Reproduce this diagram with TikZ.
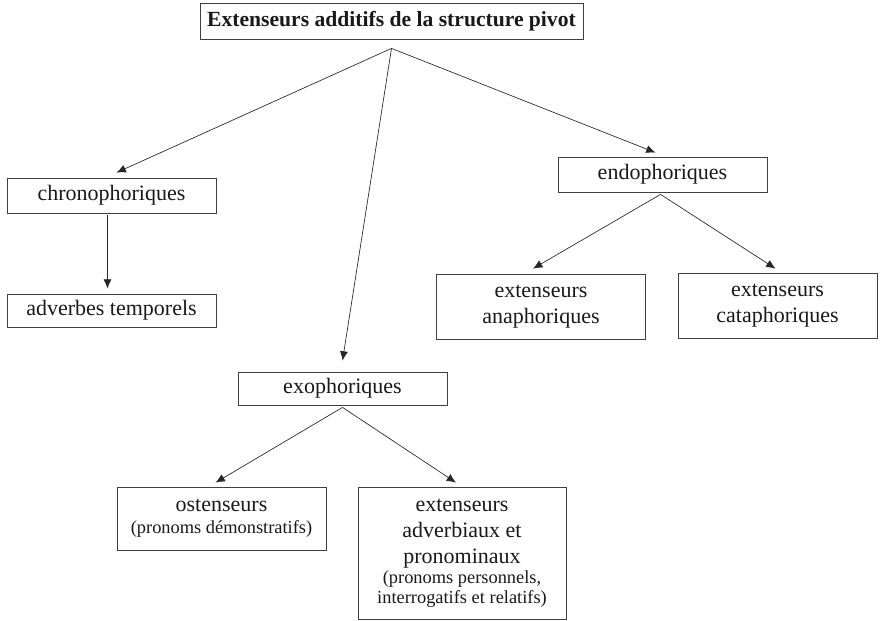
\documentclass[tikz,border=0pt]{standalone}
\usepackage{fontspec}
\setmainfont{Liberation Serif}
\usetikzlibrary{arrows.meta,positioning}
\newcommand{\petit}{\fontsize{13.8}{15}\selectfont}
\tikzset{>={Latex[length=7pt,width=6pt]}}

\begin{document}
\begin{tikzpicture}[x=0.75pt,y=-0.75pt]
	\tikzset{block/.style={draw=black!75, line width=0.6pt, rectangle, align=center, inner sep=0pt,
			minimum width=156.75pt, minimum height=26.25pt, text=black!90, font=\fontsize{16.5}{19.5}\selectfont},
		link/.style={->, line width=0.5pt, draw=black!85}}
	\useasboundingbox (0,0) rectangle (880,620);
	% boxes
	\node [block, minimum width=287.25pt, minimum height=27pt, font=\fontsize{16.2}{19.5}\selectfont\bfseries] (pivot) at (391.5,21) {Extenseurs additifs de la structure pivot};
	\node [block] (chrono) at (111.5,195.5) {chronophoriques};
	\node [block, minimum height=24.75pt] (adv) at (111.5,310.5) {adverbes temporels};
	\node [block] (endo) at (662.5,174.5) {endophoriques};
	\node [block, minimum height=48.75pt] (ana) at (541,306.5) {extenseurs\\anaphoriques};
	\node [block, minimum width=149.25pt, minimum height=48.75pt] (cata) at (777.5,305.5) {extenseurs\\cataphoriques};
	\node [block, minimum height=24.75pt] (exo) at (342.5,388.5) {exophoriques};
	\node [block, minimum height=47.25pt] (osten) at (221.5,518.5) {ostenseurs\\[-3pt]{\petit (pronoms démonstratifs)}};
	\node [block, minimum width=156pt, minimum height=99pt] (pron) at (462,553) {extenseurs\\adverbiaux et\\pronominaux\\[-4pt]{\petit (pronoms personnels,}\\[-5pt]{\petit interrogatifs et relatifs)}};
	% links
	\coordinate (top) at ([yshift=-6.75pt]pivot.south);
	\draw [link] (top) -- ([shift={(5,-5)}]chrono.north);
	\draw [link] (top) -- ([shift={(0,-11)}]exo.north);
	\draw [link] (top) -- ([shift={(-7,-4)}]endo.north);
	\draw [link] ([shift={(-4,2)}]chrono.south) -- ([shift={(-4,-5)}]adv.north);
	\draw [link] ([shift={(-2,2)}]endo.south) -- ([shift={(-8,-5)}]ana.north);
	\draw [link] ([shift={(-2,2)}]endo.south) -- ([shift={(-2,-4)}]cata.north);
	\draw [link] ([shift={(0,2)}]exo.south) -- ([shift={(-6,-4)}]osten.north);
	\draw [link] ([shift={(0,2)}]exo.south) -- ([shift={(-6,-4)}]pron.north);
\end{tikzpicture}
\end{document}
